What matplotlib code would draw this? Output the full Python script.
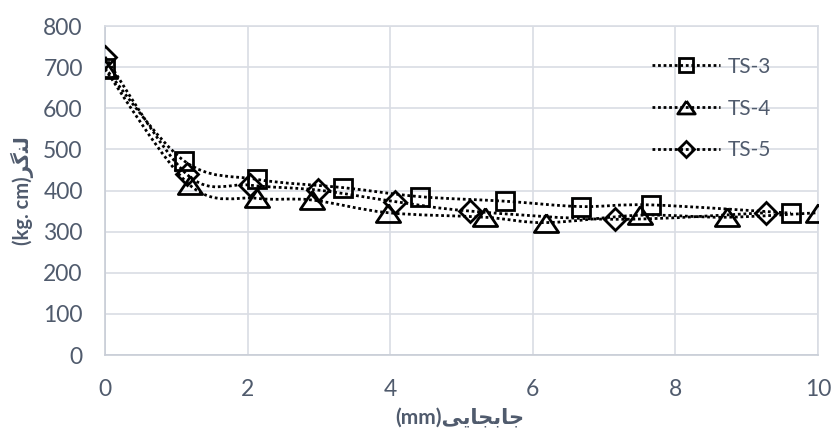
import matplotlib
matplotlib.use("Agg")
import matplotlib.pyplot as plt
from matplotlib.path import Path
from matplotlib.patches import PathPatch
from matplotlib.lines import Line2D

# ---- data ----
ts3_x = [0.0, 1.11, 2.13, 3.34, 4.42, 5.61, 6.67, 7.66, 9.62]
ts3_y = [698, 472, 427, 407, 385, 374, 361, 365, 345]
ts4_x = [0.0, 1.19, 2.13, 2.90, 3.97, 5.33, 6.19, 7.51, 8.72, 10.0]
ts4_y = [695, 413, 381, 377, 346, 335, 322, 340, 335, 346]
ts5_x = [0.0, 1.15, 2.03, 2.99, 4.07, 5.12, 7.15, 9.27]
ts5_y = [725, 439, 413, 401, 373, 350, 330, 346]
labels = ["TS-3", "TS-4", "TS-5"]
x_ticks = [0, 2, 4, 6, 8, 10]
y_ticks = [0, 100, 200, 300, 400, 500, 600, 700, 800]
# Persian labels in presentation forms (visual order)
xlabel_fa = "\uFBFD\uFBFE\uFE8E\uFEA0\uFE91\uFE8E\uFE9F"   # جابجایی
ylabel_fa = "\uFEAE\uFB94\uFEE8\uFEDF"                    # لنگر

TXT = "#505B6D"
GRID = "#D9DDE4"
FAM = ["Lato", "DejaVu Sans"]

plt.rcParams["font.family"] = FAM

fig = plt.figure(figsize=(8.32, 4.30), dpi=100)
ax = fig.add_axes([0.1262, 0.1744, 0.857, 0.7651])

def smooth_path(xs, ys):
    pts = list(zip(xs, ys))
    verts = [pts[0]]
    codes = [Path.MOVETO]
    n = len(pts)
    for i in range(n - 1):
        p0 = pts[i - 1] if i > 0 else pts[i]
        p1 = pts[i]
        p2 = pts[i + 1]
        p3 = pts[i + 2] if i + 2 < n else pts[i + 1]
        c1 = (p1[0] + (p2[0] - p0[0]) / 6.0, p1[1] + (p2[1] - p0[1]) / 6.0)
        c2 = (p2[0] - (p3[0] - p1[0]) / 6.0, p2[1] - (p3[1] - p1[1]) / 6.0)
        verts += [c1, c2, p2]
        codes += [Path.CURVE4] * 3
    return Path(verts, codes)

tri = [(0, 0.85), (-1.15, -0.85), (1.15, -0.85), (0, 0.85)]
series = [
    (ts3_x, ts3_y, "s", 13.5),
    (ts4_x, ts4_y, tri, 17.5),
    (ts5_x, ts5_y, "D", 11.0),
]
LS = (0, (1, 1.0))
LW = 2.0
handles = []
for (xs, ys, mk, ms), lab in zip(series, labels):
    patch = PathPatch(smooth_path(xs, ys), facecolor="none", edgecolor="black",
                      lw=LW, linestyle=LS, zorder=3)
    ax.add_patch(patch)
    ax.plot(xs, ys, linestyle="none", marker=mk, ms=ms, mfc="none",
            mec="black", mew=2.0, zorder=4)
    handles.append(Line2D([], [], color="black", lw=LW, linestyle=LS,
                          marker=mk, ms=ms * 0.72, mfc="none", mec="black",
                          mew=2.0))

ax.set_xlim(0, 10)
ax.set_ylim(0, 800)
ax.set_xticks(x_ticks)
ax.set_yticks(y_ticks)
ax.grid(True, color=GRID, lw=1.2)
ax.set_axisbelow(True)
for s in ax.spines.values():
    s.set_color(GRID)
    s.set_linewidth(1.2)
ax.spines["left"].set_color("#C8CDD6")
ax.spines["bottom"].set_color("#C8CDD6")
ax.tick_params(length=0, labelsize=16.5, labelcolor=TXT)
ax.tick_params(axis="x", pad=17)
ax.tick_params(axis="y", pad=16)

ax.set_xlabel("(mm)" + xlabel_fa, fontsize=15, fontweight="bold", color=TXT)
ax.set_ylabel("(kg. cm)" + ylabel_fa, fontsize=14.5, fontweight="bold", color=TXT)
ax.xaxis.set_label_coords(0.498, -0.192)
ax.xaxis.label.set_verticalalignment("center")
ax.yaxis.set_label_coords(-0.1164, 0.5)
ax.yaxis.label.set_verticalalignment("center")

leg = ax.legend(handles, labels, loc="upper left", bbox_to_anchor=(0.755, 0.932),
                frameon=False, fontsize=15, handlelength=3.3, handletextpad=0.35,
                labelspacing=1.05, borderaxespad=0)
for t in leg.get_texts():
    t.set_color(TXT)

fig.savefig("out.png", dpi=100)
